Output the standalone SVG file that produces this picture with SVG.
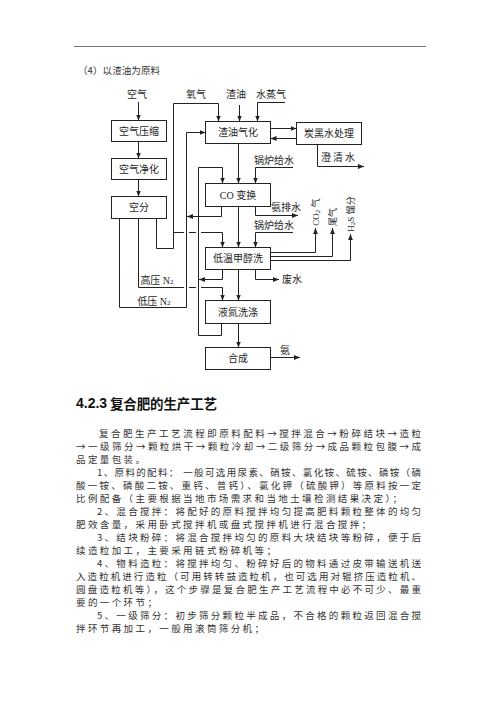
<svg xmlns="http://www.w3.org/2000/svg" width="500" height="706" viewBox="0 0 500 706">
<style>
.box{fill:none;stroke:#222;stroke-width:1}
.ln{fill:none;stroke:#222;stroke-width:1}
.arr{marker-end:url(#ah)}
.lb{font-family:"Liberation Serif","Noto Sans CJK SC",serif;font-size:10px;fill:#1e1e1e;text-anchor:middle;dominant-baseline:central}
.sm{font-family:"Liberation Serif","Noto Sans CJK SC",serif;font-size:9px;fill:#1e1e1e;text-anchor:middle;dominant-baseline:central}
.bd{font-family:"Noto Sans CJK SC",sans-serif;font-size:9.5px;fill:#333;dominant-baseline:central;letter-spacing:2.4px}
.bj{font-family:"Noto Sans CJK SC",sans-serif;font-size:9.5px;fill:#333;dominant-baseline:central}
</style>
<defs>
<marker id="ah" viewBox="0 0 10 10" refX="10" refY="5" markerWidth="6" markerHeight="6" orient="auto" markerUnits="userSpaceOnUse"><path d="M0,1 L10,5 L0,9 z" fill="#222"/></marker>
</defs>
<rect width="500" height="706" fill="#fff"/>
<line x1="74" y1="46.5" x2="426" y2="46.5" stroke="#777" stroke-width="1"/>
<text class="bj" x="78" y="70" font-size="10" textLength="82" lengthAdjust="spacing">（4）以渣油为原料</text>

<g id="inputs">
<text class="lb" x="137" y="94">空气</text>
<text class="lb" x="196" y="94">氧气</text>
<text class="lb" x="236" y="94">渣油</text>
<text class="lb" x="271" y="94">水蒸气</text>
</g>

<g id="n-kqys"><rect class="box" x="111.5" y="120.5" width="55" height="21"/><text class="lb" x="139" y="131">空气压缩</text></g>
<g id="n-kqjh"><rect class="box" x="111.5" y="158.5" width="55" height="21"/><text class="lb" x="139" y="169">空气净化</text></g>
<g id="n-kf"><rect class="box" x="111.5" y="196.5" width="55" height="22"/><text class="lb" x="139" y="207.5">空分</text></g>
<g id="n-zyqh"><rect class="box" x="205.5" y="121.5" width="65" height="22"/><text class="lb" x="238" y="132.5">渣油气化</text></g>
<g id="n-thscl"><rect class="box" x="296.5" y="122.5" width="65" height="22"/><text class="lb" x="329" y="133.5">炭黑水处理</text></g>
<g id="n-cobh"><rect class="box" x="205.5" y="183.5" width="65" height="23"/><text class="lb" x="238" y="195">CO 变换</text></g>
<g id="n-dwjcx"><rect class="box" x="205.5" y="247.5" width="65" height="22"/><text class="lb" x="238" y="258.5">低温甲醇洗</text></g>
<g id="n-ydxd"><rect class="box" x="205.5" y="300.5" width="65" height="23"/><text class="lb" x="238" y="312">液氮洗涤</text></g>
<g id="n-hc"><rect class="box" x="205.5" y="347.5" width="65" height="22"/><text class="lb" x="238" y="358.5">合成</text></g>

<g id="connectors">
<polyline class="ln arr" points="138.5,102 138.5,120.5"/>
<polyline class="ln arr" points="138.5,141.5 138.5,158.5"/>
<polyline class="ln arr" points="138.5,179.5 138.5,196.5"/>
<polyline class="ln arr" points="156.5,218.5 156.5,248.5 173.5,248.5 173.5,103.5 218.5,103.5 218.5,121.5"/>
<polyline class="ln arr" points="239.5,105 239.5,121.5"/>
<polyline class="ln arr" points="285,102.5 257.5,102.5 257.5,121.5"/>
<polyline class="ln arr" points="270.5,128.5 296.5,128.5"/>
<polyline class="ln arr" points="296.5,138.5 270.5,138.5"/>
<polyline class="ln arr" points="317.5,144.5 317.5,166.5 364,166.5"/>
<polyline class="ln arr" points="238.5,143.5 238.5,183.5"/>
<polyline class="ln arr" points="238.5,206.5 238.5,247.5"/>
<polyline class="ln arr" points="238.5,269.5 238.5,300.5"/>
<polyline class="ln arr" points="238.5,323.5 238.5,347.5"/>
<polyline class="ln arr" points="270.5,357.5 300,357.5"/>
<polyline class="ln arr" points="293,167.5 255.5,167.5 255.5,183.5"/>
<polyline class="ln arr" points="255.5,206.5 255.5,215.5 298,215.5"/>
<polyline class="ln arr" points="293,232.5 255.5,232.5 255.5,247.5"/>
<polyline class="ln arr" points="255.5,269.5 255.5,279.5 279,279.5"/>
<polyline class="ln arr" points="270.5,252.5 315.5,252.5 315.5,228"/>
<polyline class="ln arr" points="270.5,256.5 332.5,256.5 332.5,228"/>
<polyline class="ln arr" points="270.5,260.5 350.5,260.5 350.5,234"/>
<polyline class="ln arr" points="119.5,218.5 119.5,307.5 186.5,307.5 186.5,132.5 205.5,132.5"/>
<polyline class="ln" points="173.5,232.5 184,232.5"/>
<polyline class="ln" points="189,232.5 196,232.5"/>
<polyline class="ln arr" points="201,232.5 222.5,232.5 222.5,247.5"/>
<polyline class="ln" points="138.5,218.5 138.5,287.5 184,287.5"/>
<polyline class="ln" points="189,287.5 196,287.5"/>
<polyline class="ln arr" points="201,287.5 222.5,287.5 222.5,300.5"/>
<polyline class="ln arr" points="221.5,323.5 221.5,335.5 198.5,335.5 198.5,167.5 222.5,167.5 222.5,183.5"/>
<polyline class="ln arr" points="221.5,206.5 221.5,216.5 187,216.5"/>
<polyline class="ln arr" points="222.5,269.5 222.5,279.5 199,279.5"/>
</g>

<g id="labels">
<text class="lb" x="338" y="157.5" textLength="34" lengthAdjust="spacing">澄清水</text>
<text class="lb" x="274" y="160">锅炉给水</text>
<text class="lb" x="286" y="207.5">氨排水</text>
<text class="lb" x="274" y="225.5">锅炉给水</text>
<text class="lb" x="292" y="279">废水</text>
<text class="lb" x="285" y="350">氨</text>
<text class="sm" transform="translate(315.5,212) rotate(-90)">CO<tspan font-size="7" dy="2">2</tspan><tspan dy="-2"> 气</tspan></text>
<text class="sm" transform="translate(332.5,217) rotate(-90)">尾气</text>
<text class="sm" transform="translate(350.5,214) rotate(-90)">H<tspan font-size="7" dy="2">2</tspan><tspan dy="-2">S 馏分</tspan></text>
<text class="lb" x="157" y="280">高压 N<tspan font-size="7" dy="2">2</tspan></text>
<text class="lb" x="154" y="301">低压 N<tspan font-size="7" dy="2">2</tspan></text>
</g>

<g id="body">
<text x="76" y="403" font-family="Liberation Sans,Arial,sans-serif" font-weight="bold" font-size="14" fill="#111" dominant-baseline="central">4.2.3</text>
<text x="110" y="403" font-family="Noto Sans CJK SC,sans-serif" font-weight="bold" font-size="13.5" fill="#111" dominant-baseline="central" textLength="107" lengthAdjust="spacing">复合肥的生产工艺</text>
<text class="bj" x="99" y="433" textLength="322" lengthAdjust="spacing">复合肥生产工艺流程即原料配料→搅拌混合→粉碎结块→造粒</text>
<text class="bj" x="76" y="446" textLength="345" lengthAdjust="spacing">→一级筛分→颗粒烘干→颗粒冷却→二级筛分→成品颗粒包膜→成</text>
<text class="bd" x="76" y="459">品定量包装。</text>
<text class="bj" x="97" y="472" textLength="324" lengthAdjust="spacing">1、原料的配料： 一般可选用尿素、硝铵、氯化铵、硫铵、磷铵（磷</text>
<text class="bj" x="76" y="485" textLength="345" lengthAdjust="spacing">酸一铵、磷酸二铵、重钙、普钙）、氯化钾（硫酸钾）等原料按一定</text>
<text class="bd" x="76" y="498">比例配备（主要根据当地市场需求和当地土壤检测结果决定）；</text>
<text class="bj" x="97" y="511" textLength="324" lengthAdjust="spacing">2、混合搅拌：将配好的原料搅拌均匀提高肥料颗粒整体的均匀</text>
<text class="bd" x="76" y="524">肥效含量，采用卧式搅拌机或盘式搅拌机进行混合搅拌；</text>
<text class="bj" x="97" y="537" textLength="324" lengthAdjust="spacing">3、结块粉碎：将混合搅拌均匀的原料大块结块等粉碎，便于后</text>
<text class="bd" x="76" y="550">续造粒加工，主要采用链式粉碎机等；</text>
<text class="bj" x="97" y="563" textLength="324" lengthAdjust="spacing">4、物料造粒：将搅拌均匀、粉碎好后的物料通过皮带输送机送</text>
<text class="bj" x="76" y="576" textLength="345" lengthAdjust="spacing">入造粒机进行造粒（可用转转鼓造粒机，也可选用对辊挤压造粒机、</text>
<text class="bj" x="76" y="589" textLength="345" lengthAdjust="spacing">圆盘造粒机等），这个步骤是复合肥生产工艺流程中必不可少、最重</text>
<text class="bd" x="76" y="602">要的一个环节；</text>
<text class="bj" x="97" y="615" textLength="324" lengthAdjust="spacing">5、一级筛分：初步筛分颗粒半成品，不合格的颗粒返回混合搅</text>
<text class="bd" x="76" y="628">拌环节再加工，一般用滚筒筛分机；</text>
</g>
</svg>
